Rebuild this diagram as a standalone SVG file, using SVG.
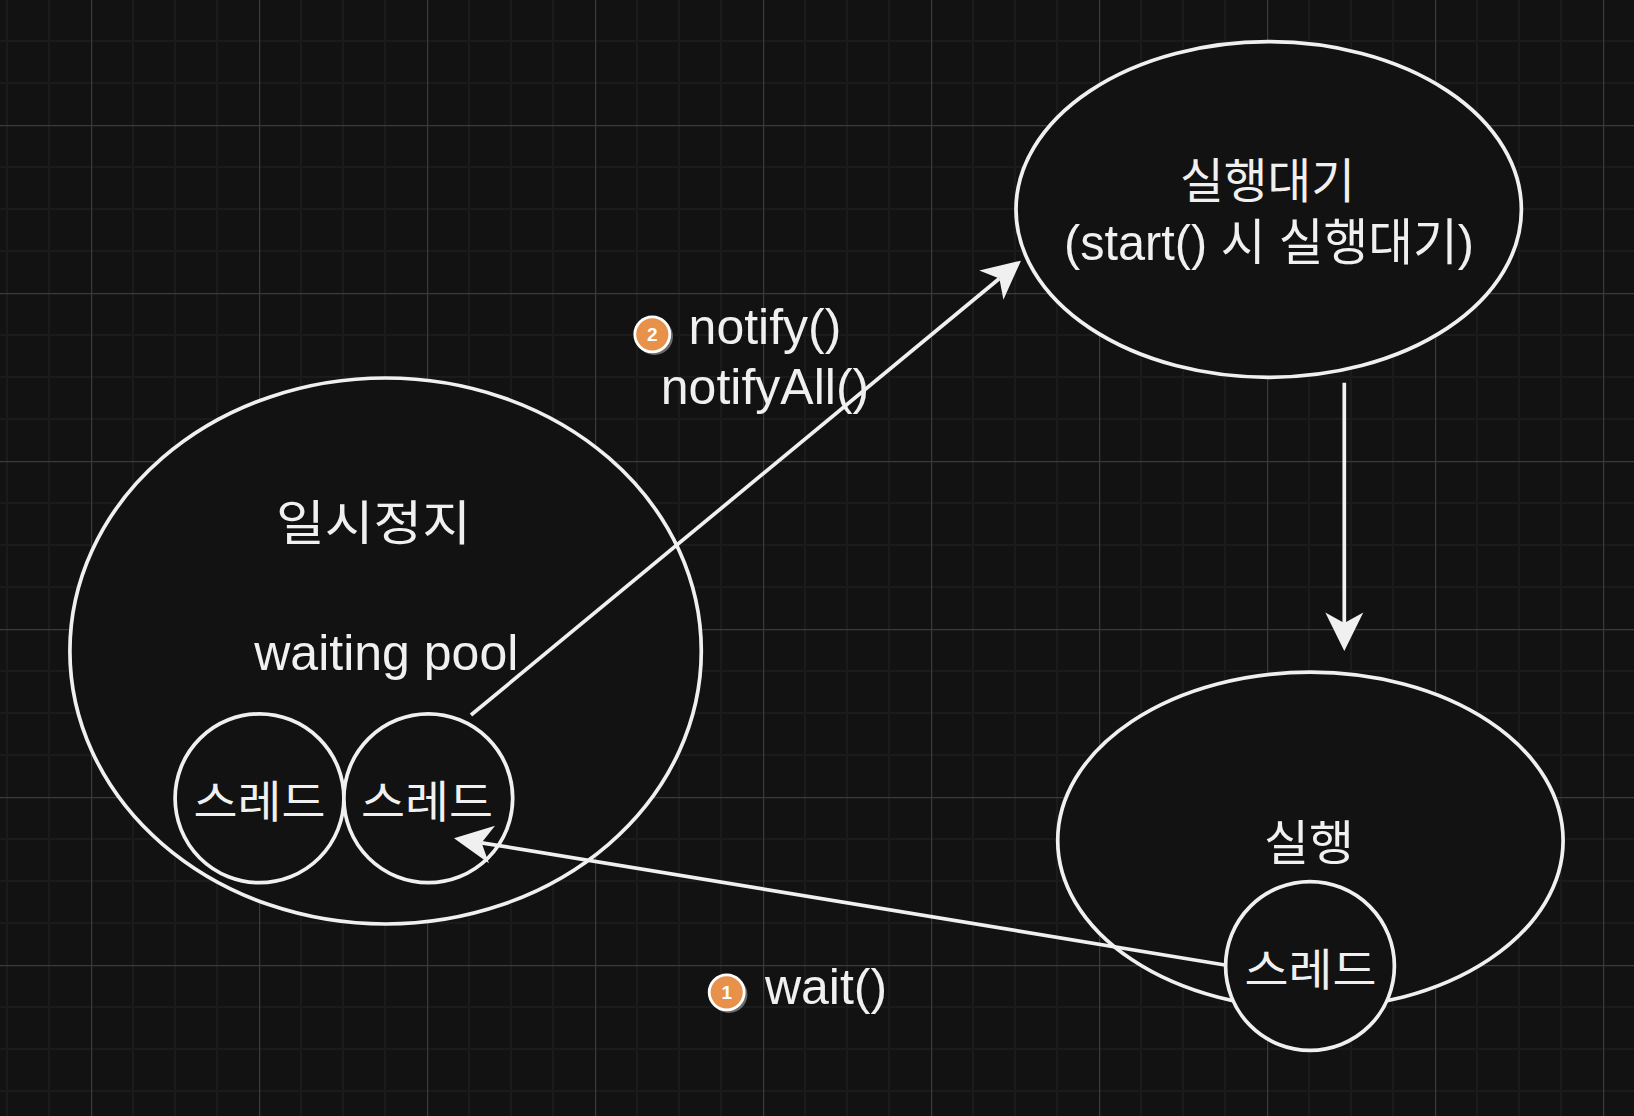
<svg xmlns="http://www.w3.org/2000/svg" width="1634" height="1116" viewBox="0 0 1634 1116">
  <style>
    .shape { fill: #121212; stroke: #f0f0f0; stroke-width: 3.7; }
    .edge { fill: none; stroke: #f0f0f0; stroke-width: 3.7; }
    .kr { font-family: "Liberation Sans", "Noto Sans CJK KR", sans-serif; fill: #f0f0f0; text-anchor: middle; }
    .lbl { font-family: "Liberation Sans", "Noto Sans CJK KR", sans-serif; font-size: 50px; fill: #f0f0f0; text-anchor: middle; }
    .badge { fill: #e8914b; stroke: #ffffff; stroke-width: 2.8; }
    .badge-shadow { fill: #6a6a6a; }
    .badge-num { font-family: "Liberation Sans", sans-serif; font-size: 19px; font-weight: bold; fill: #ffffff; text-anchor: middle; }
  </style>
  <defs>
    <pattern id="grid" patternUnits="userSpaceOnUse" x="91" y="125" width="168" height="168">
      <rect width="168" height="168" fill="#121212"/>
      <g stroke="#1b1b1b" stroke-width="2">
        <line x1="42" y1="0" x2="42" y2="168"/>
        <line x1="84" y1="0" x2="84" y2="168"/>
        <line x1="126" y1="0" x2="126" y2="168"/>
        <line x1="0" y1="42" x2="168" y2="42"/>
        <line x1="0" y1="84" x2="168" y2="84"/>
        <line x1="0" y1="126" x2="168" y2="126"/>
      </g>
      <g stroke="#3a3a3a" stroke-width="1.2">
        <line x1="0.6" y1="0" x2="0.6" y2="168"/>
        <line x1="0" y1="0.6" x2="168" y2="0.6"/>
      </g>
    </pattern>
    <marker id="arrow" markerUnits="userSpaceOnUse" markerWidth="80" markerHeight="80" refX="0" refY="0" orient="auto" overflow="visible" viewBox="-40 -40 80 80">
      <path d="M28,0 L-10.5,-19 L0,0 L-10.5,19 Z" fill="#f0f0f0" stroke="none"/>
    </marker>
  </defs>

  <rect x="0" y="0" width="1634" height="1116" fill="url(#grid)"/>

  <g id="node-pause">
    <ellipse class="shape" cx="385.6" cy="651" rx="315.7" ry="273"/>
    <text class="kr" x="373.5" y="540" font-size="48" textLength="195" lengthAdjust="spacingAndGlyphs">일시정지</text>
    <text class="lbl" x="386.3" y="670">waiting pool</text>
  </g>

  <g id="node-thread-1">
    <circle class="shape" cx="259.5" cy="798.3" r="84.4"/>
    <text class="kr" x="259.5" y="818" font-size="44" textLength="132" lengthAdjust="spacingAndGlyphs">스레드</text>
  </g>

  <g id="node-thread-2">
    <circle class="shape" cx="428.3" cy="798.3" r="84.4"/>
    <text class="kr" x="427" y="818" font-size="44" textLength="132" lengthAdjust="spacingAndGlyphs">스레드</text>
  </g>

  <g id="node-ready">
    <ellipse class="shape" cx="1268.7" cy="209.5" rx="252.7" ry="167.8"/>
    <text class="kr" x="1267.5" y="198" font-size="48" textLength="175" lengthAdjust="spacingAndGlyphs">실행대기</text>
    <text class="kr" x="1269" y="260" font-size="50" textLength="410" lengthAdjust="spacingAndGlyphs">(start() 시 실행대기)</text>
  </g>

  <g id="node-running">
    <ellipse class="shape" cx="1310.4" cy="840.5" rx="252.7" ry="168.3"/>
    <text class="kr" x="1309" y="860" font-size="48" textLength="90" lengthAdjust="spacingAndGlyphs">실행</text>
  </g>

  <g id="node-thread-3">
    <circle class="shape" cx="1310" cy="966" r="84.4"/>
    <text class="kr" x="1310.5" y="986" font-size="44" textLength="132" lengthAdjust="spacingAndGlyphs">스레드</text>
  </g>

  <g id="connectors">
    <line class="edge" x1="471" y1="715" x2="999.4" y2="278.5" marker-end="url(#arrow)"/>
    <line class="edge" x1="1344.3" y1="382.7" x2="1344.3" y2="623" marker-end="url(#arrow)"/>
    <line class="edge" x1="1225" y1="965" x2="481.6" y2="842.8" marker-end="url(#arrow)"/>
  </g>

  <g id="label-notify">
    <circle class="badge-shadow" cx="654.5" cy="336.5" r="18.5"/>
    <circle class="badge" cx="652.3" cy="334.3" r="17.5"/>
    <text class="badge-num" x="652.3" y="341">2</text>
    <text class="lbl" x="765" y="344">notify()</text>
    <text class="lbl" x="765" y="403.5">notifyAll()</text>
  </g>

  <g id="label-wait">
    <circle class="badge-shadow" cx="728.9" cy="994.5" r="18.5"/>
    <circle class="badge" cx="726.7" cy="992.3" r="17.5"/>
    <text class="badge-num" x="726.7" y="999">1</text>
    <text class="lbl" x="826" y="1004">wait()</text>
  </g>
</svg>
